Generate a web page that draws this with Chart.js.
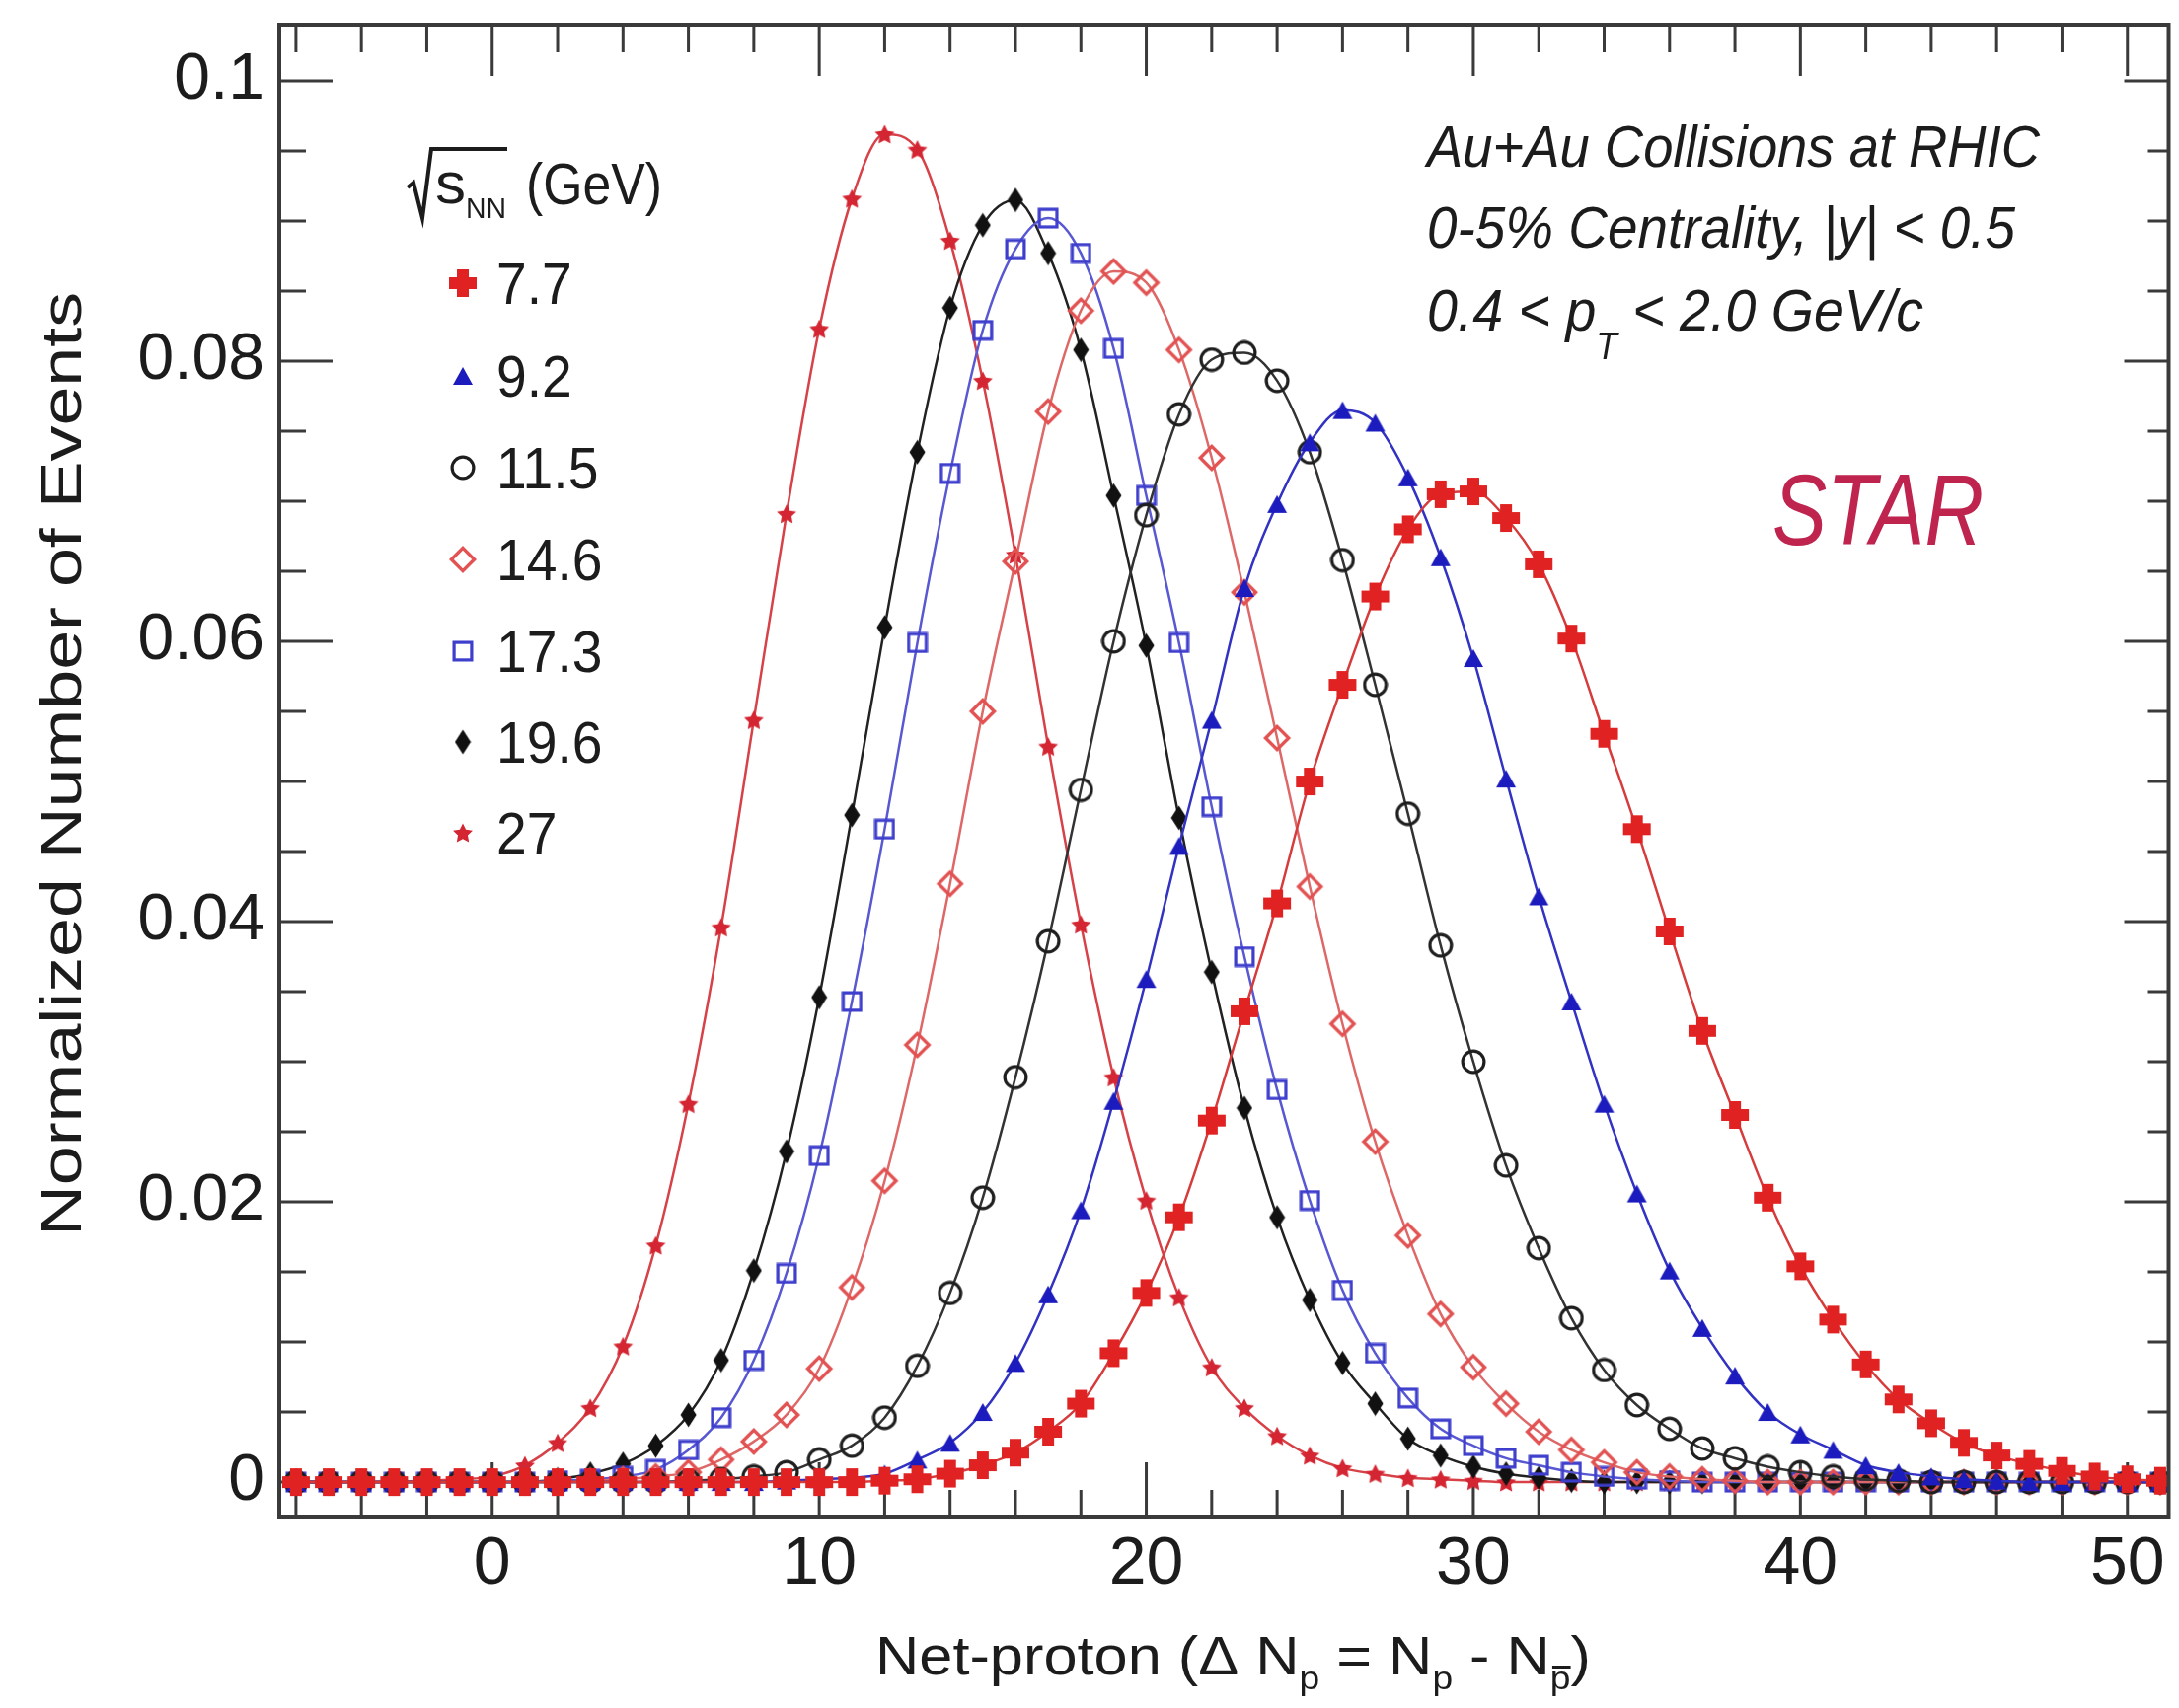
<!DOCTYPE html>
<html>
<head>
<meta charset="utf-8">
<title>Net-proton distributions</title>
<script src="https://cdn.jsdelivr.net/npm/chart.js@4.4.1/dist/chart.umd.min.js"></script>
<style>
    html, body { margin: 0; padding: 0; background: #fff; overflow: hidden; }
    #chart { display: block; }
</style>
</head>
<body>
<canvas id="chart" width="2208" height="1731"></canvas>
<script>
// Net-proton bins (x values)
const netProton = [-6, -5, -4, -3, -2, -1, 0, 1, 2, 3,
    4, 5, 6, 7, 8, 9, 10, 11, 12, 13,
    14, 15, 16, 17, 18, 19, 20, 21, 22, 23,
    24, 25, 26, 27, 28, 29, 30, 31, 32, 33,
    34, 35, 36, 37, 38, 39, 40, 41, 42, 43,
    44, 45, 46, 47, 48, 49, 50, 51];

// Collision energies (GeV), legend order
const energies = ['7.7', '9.2', '11.5', '14.6', '17.3', '19.6', '27'];

// Normalized number of events, one array per energy (rows: -6..3, 4..13, 14..23, 24..33, 34..43, 44..51)
const events7p7 = [0, 0, 0, 0, 0, 0, 0, 0, 0, 0,
    0, 0, 0, 0, 0, 0, 0, 0, 0.0001, 0.0002,
    0.0006, 0.0012, 0.0021, 0.0036, 0.0056, 0.0092, 0.0135, 0.0189, 0.0258, 0.0336,
    0.0413, 0.0500, 0.0569, 0.0632, 0.0680, 0.0705, 0.0707, 0.0688, 0.0655, 0.0602,
    0.0534, 0.0466, 0.0393, 0.0322, 0.0262, 0.0203, 0.0154, 0.0116, 0.0084, 0.0059,
    0.0042, 0.0028, 0.0019, 0.0013, 0.0008, 0.0004, 0.0002, 0.0001];

const events9p2 = [0, 0, 0, 0, 0, 0, 0, 0, 0, 0,
    0, 0, 0, 0, 0, 0.0001, 0.0002, 0.0003, 0.0006, 0.0016,
    0.0028, 0.0050, 0.0085, 0.0134, 0.0194, 0.0272, 0.0359, 0.0454, 0.0544, 0.0638,
    0.0698, 0.0742, 0.0765, 0.0756, 0.0717, 0.0660, 0.0588, 0.0502, 0.0418, 0.0343,
    0.0270, 0.0206, 0.0151, 0.0110, 0.0076, 0.0050, 0.0034, 0.0023, 0.0012, 0.0007,
    0.0004, 0.0002, 0.0001, 0, 0, 0, 0, 0];

const events11p5 = [0, 0, 0, 0, 0, 0, 0, 0, 0, 0,
    0, 0, 0.0001, 0.0002, 0.0004, 0.0007, 0.0016, 0.0026, 0.0046, 0.0083,
    0.0135, 0.0203, 0.0289, 0.0386, 0.0494, 0.0600, 0.0690, 0.0762, 0.0801, 0.0806,
    0.0786, 0.0735, 0.0658, 0.0569, 0.0477, 0.0383, 0.0300, 0.0226, 0.0167, 0.0117,
    0.0080, 0.0055, 0.0038, 0.0024, 0.0017, 0.0011, 0.0007, 0.0004, 0.0002, 0.0001,
    0, 0, 0, 0, 0, 0, 0, 0];

const events14p6 = [0, 0, 0, 0, 0, 0, 0, 0, 0, 0.0001,
    0.0002, 0.0004, 0.0007, 0.0016, 0.0029, 0.0048, 0.0081, 0.0139, 0.0215, 0.0312,
    0.0427, 0.0550, 0.0657, 0.0764, 0.0836, 0.0864, 0.0856, 0.0808, 0.0731, 0.0635,
    0.0531, 0.0425, 0.0327, 0.0243, 0.0176, 0.0120, 0.0082, 0.0056, 0.0036, 0.0023,
    0.0014, 0.0007, 0.0004, 0.0002, 0.0001, 0, 0, 0, 0, 0,
    0, 0, 0, 0, 0, 0, 0, 0];

const events17p3 = [0, 0, 0, 0, 0, 0, 0, 0, 0.0001, 0.0002,
    0.0004, 0.0009, 0.0023, 0.0046, 0.0087, 0.0149, 0.0233, 0.0343, 0.0466, 0.0599,
    0.0720, 0.0822, 0.0880, 0.0902, 0.0877, 0.0809, 0.0704, 0.0599, 0.0482, 0.0375,
    0.0280, 0.0201, 0.0137, 0.0092, 0.0060, 0.0038, 0.0026, 0.0017, 0.0012, 0.0007,
    0.0004, 0.0002, 0.0001, 0, 0, 0, 0, 0, 0, 0,
    0, 0, 0, 0, 0, 0, 0, 0];

const events19p6 = [0, 0, 0, 0, 0, 0, 0, 0, 0.0002, 0.0006,
    0.0013, 0.0026, 0.0048, 0.0087, 0.0151, 0.0236, 0.0346, 0.0476, 0.0610, 0.0735,
    0.0838, 0.0897, 0.0915, 0.0877, 0.0808, 0.0704, 0.0597, 0.0474, 0.0364, 0.0267,
    0.0189, 0.0130, 0.0085, 0.0056, 0.0031, 0.0019, 0.0011, 0.0006, 0.0003, 0.0001,
    0, 0, 0, 0, 0, 0, 0, 0, 0, 0,
    0, 0, 0, 0, 0, 0, 0, 0];

const events27 = [0, 0, 0, 0, 0.0001, 0.0002, 0.0004, 0.0012, 0.0028, 0.0053,
    0.0097, 0.0169, 0.0270, 0.0396, 0.0544, 0.0691, 0.0823, 0.0916, 0.0962, 0.0951,
    0.0886, 0.0786, 0.0662, 0.0525, 0.0398, 0.0289, 0.0201, 0.0132, 0.0082, 0.0053,
    0.0033, 0.0019, 0.0010, 0.0006, 0.0003, 0.0002, 0.0001, 0, 0, 0,
    0, 0, 0, 0, 0, 0, 0, 0, 0, 0,
    0, 0, 0, 0, 0, 0, 0, 0];

// Axis ticks
const xTickValues = [0, 10, 20, 30, 40, 50];
const xTickLabels = ['0', '10', '20', '30', '40', '50'];
const xMinorValues = [-6, -4, -2, 0, 2, 4, 6, 8, 10, 12, 14, 16, 18, 20, 22, 24, 26, 28,
    30, 32, 34, 36, 38, 40, 42, 44, 46, 48, 50];
const yTickValues = [0, 0.02, 0.04, 0.06, 0.08, 0.1];
const yTickLabels = ['0', '0.02', '0.04', '0.06', '0.08', '0.1'];
const yMinorValues = [0, 0.005, 0.01, 0.015, 0.02, 0.025, 0.03, 0.035, 0.04, 0.045, 0.05,
    0.055, 0.06, 0.065, 0.07, 0.075, 0.08, 0.085, 0.09, 0.095, 0.1];

const FONT = '"Liberation Sans", Arial, Helvetica, sans-serif';
const TEXT_COLOR = '#1c1c1c';
Chart.defaults.font.family = FONT;

// Marker images (ROOT-like styles)
function makeMarker(shape, color, w, h, lw) {
    const c = document.createElement('canvas');
    c.width = w; c.height = h;
    const g = c.getContext('2d');
    g.fillStyle = color;
    g.strokeStyle = color;
    g.lineWidth = lw || 3;
    const mx = w / 2, my = h / 2;
    g.beginPath();
    if (shape === 'cross') {
        const a = w * 0.2;
        g.rect(mx - a, 1, 2 * a, h - 2);
        g.rect(1, my - a, w - 2, 2 * a);
        g.fill();
    } else if (shape === 'triangle') {
        g.moveTo(mx, 1);
        g.lineTo(w - 1, h - 1);
        g.lineTo(1, h - 1);
        g.closePath();
        g.fill();
    } else if (shape === 'circle') {
        g.arc(mx, my, mx - g.lineWidth / 2 - 0.5, 0, Math.PI * 2);
        g.stroke();
    } else if (shape === 'diamondOpen') {
        const p = g.lineWidth;
        g.moveTo(mx, p); g.lineTo(w - p, my); g.lineTo(mx, h - p); g.lineTo(p, my);
        g.closePath();
        g.stroke();
    } else if (shape === 'square') {
        const p = g.lineWidth / 2 + 0.5;
        g.strokeRect(p, p, w - 2 * p, h - 2 * p);
    } else if (shape === 'diamond') {
        g.moveTo(mx, 0.5); g.lineTo(w - 0.5, my); g.lineTo(mx, h - 0.5); g.lineTo(0.5, my);
        g.closePath();
        g.fill();
    } else if (shape === 'star') {
        const ro = w / 2 - 0.5, ri = ro * 0.5;
        for (let i = 0; i < 10; i++) {
            const r = i % 2 ? ri : ro;
            const ang = -Math.PI / 2 + i * Math.PI / 5;
            const px = mx + r * Math.cos(ang), py = my + r * Math.sin(ang) + 1;
            if (i === 0) g.moveTo(px, py); else g.lineTo(px, py);
        }
        g.closePath();
        g.fill();
    }
    return c;
}

const seriesValues = [events7p7, events9p2, events11p5, events14p6, events17p3, events19p6, events27];
const seriesStyles = [
    { marker: makeMarker('cross', 'rgb(224,34,34)', 30, 30), line: 'rgb(214,60,60)' },
    { marker: makeMarker('triangle', 'rgb(28,28,190)', 22, 20), line: 'rgb(50,50,195)' },
    { marker: makeMarker('circle', '#1e1e1e', 26, 26, 3.2), line: '#333' },
    { marker: makeMarker('diamondOpen', 'rgb(226,82,82)', 30, 30, 3.4), line: 'rgb(222,104,104)' },
    { marker: makeMarker('square', 'rgb(62,62,205)', 22, 22, 3.2), line: 'rgb(88,88,210)' },
    { marker: makeMarker('diamond', '#111', 17, 26), line: '#222' },
    { marker: makeMarker('star', 'rgb(212,38,50)', 22, 22), line: 'rgb(214,66,72)' }
];

const datasets = energies.map((e, i) => ({
    label: e + ' GeV',
    data: netProton.map((x, j) => ({ x: x, y: seriesValues[i][j] })),
    borderColor: seriesStyles[i].line,
    borderWidth: 2.5,
    pointStyle: seriesStyles[i].marker,
    pointRadius: 8,
    cubicInterpolationMode: 'monotone',
    fill: false
}));

// Draw a row of text runs, squeezed/stretched to a target width
function drawRuns(ctx, runs, x, y, targetW) {
    let total = 0;
    runs.forEach(r => { ctx.font = r.font; r.w = ctx.measureText(r.text).width; total += r.w; });
    const k = targetW ? targetW / total : 1;
    ctx.save();
    ctx.translate(x, y);
    ctx.scale(k, 1);
    let cx = 0;
    runs.forEach(r => {
        ctx.font = r.font;
        ctx.fillText(r.text, cx, r.dy || 0);
        if (r.overline) ctx.fillRect(cx + r.w * 0.1, (r.dy || 0) - r.overline, r.w * 0.9, 3);
        cx += r.w;
    });
    ctx.restore();
}

const framePlugin = {
    id: 'frame',
    beforeDatasetsDraw(chart) {
        const { ctx, chartArea: a, scales: { x, y } } = chart;
        ctx.save();
        ctx.strokeStyle = '#3a3a3a';
        ctx.lineWidth = 3;
        ctx.beginPath();
        xMinorValues.forEach(v => {
            const px = x.getPixelForValue(v);
            const major = xTickValues.includes(v);
            ctx.moveTo(px, a.bottom); ctx.lineTo(px, a.bottom - (major ? 55 : 27));
            ctx.moveTo(px, a.top); ctx.lineTo(px, a.top + (major ? 52 : 28));
        });
        yMinorValues.forEach((v, i) => {
            const py = y.getPixelForValue(v);
            const major = i % 4 === 0;
            ctx.moveTo(a.left, py); ctx.lineTo(a.left + (major ? 54 : 27), py);
            ctx.moveTo(a.right, py); ctx.lineTo(a.right - (major ? 45 : 21), py);
        });
        ctx.stroke();
        ctx.restore();
    },
    afterDatasetsDraw(chart) {
        const { ctx, chartArea: a } = chart;
        ctx.save();
        ctx.strokeStyle = '#3a3a3a';
        ctx.lineWidth = 4;
        ctx.strokeRect(a.left, a.top, a.right - a.left, a.bottom - a.top);
        ctx.restore();
    }
};

const textPlugin = {
    id: 'texts',
    afterDraw(chart) {
        const ctx = chart.ctx;
        ctx.save();
        ctx.fillStyle = TEXT_COLOR;
        ctx.strokeStyle = TEXT_COLOR;
        ctx.textBaseline = 'alphabetic';
        ctx.textAlign = 'left';

        // Y axis title
        ctx.save();
        ctx.translate(82, 775);
        ctx.rotate(-Math.PI / 2);
        drawRuns(ctx, [{ text: 'Normalized Number of Events', font: '58px ' + FONT }], -478, 0, 957);
        ctx.restore();

        // X axis title
        const big = '56px ' + FONT, sub = '34px ' + FONT;
        drawRuns(ctx, [
            { text: 'Net-proton (\u0394 N', font: big },
            { text: 'p', font: sub, dy: 15 },
            { text: ' = N', font: big },
            { text: 'p', font: sub, dy: 15 },
            { text: ' - N', font: big },
            { text: 'p', font: sub, dy: 15, overline: 24 },
            { text: ')', font: big }
        ], 887, 1697, 725);

        // Legend header: sqrt(s_NN) (GeV)
        ctx.lineWidth = 4;
        ctx.lineJoin = 'miter';
        ctx.beginPath();
        ctx.moveTo(413, 190); ctx.lineTo(419, 185); ctx.lineTo(428, 221);
        ctx.lineTo(437, 151); ctx.lineTo(514, 151);
        ctx.stroke();
        drawRuns(ctx, [{ text: 's', font: '60px ' + FONT }], 441, 206, 31);
        drawRuns(ctx, [{ text: 'NN', font: '30px ' + FONT }], 472, 221, 41);
        drawRuns(ctx, [{ text: '(GeV)', font: '60px ' + FONT }], 533, 207, 138);

        // Legend entries
        const rowY = [287, 381, 474, 567, 660, 752, 844];
        energies.forEach((e, i) => {
            const m = seriesStyles[i].marker;
            ctx.drawImage(m, 469 - m.width / 2, rowY[i] - m.height / 2);
            ctx.font = '60px ' + FONT;
            const w = ctx.measureText(e).width;
            drawRuns(ctx, [{ text: e, font: '60px ' + FONT }], 503, rowY[i] + 21, w * 0.92);
        });

        // Info text
        const it = 'italic 60px ' + FONT;
        drawRuns(ctx, [{ text: 'Au+Au Collisions at RHIC', font: it }], 1446, 169, 621);
        drawRuns(ctx, [{ text: '0-5% Centrality, |y| < 0.5', font: it }], 1446, 251, 596);
        drawRuns(ctx, [
            { text: '0.4 < p', font: it },
            { text: 'T', font: 'italic 38px ' + FONT, dy: 29 },
            { text: ' < 2.0 GeV/c', font: it }
        ], 1446, 335, 503);

        // STAR label
        ctx.fillStyle = 'rgb(190,36,78)';
        drawRuns(ctx, [{ text: 'STAR', font: 'italic 102px ' + FONT }], 1796, 552, 214);
        ctx.restore();
    }
};

const chart = new Chart(document.getElementById('chart'), {
    type: 'line',
    data: { datasets: datasets },
    options: {
        responsive: false,
        animation: false,
        devicePixelRatio: 1,
        layout: { padding: { top: 25, left: 0, right: 0, bottom: 0 } },
        plugins: {
            legend: { display: false },
            tooltip: { enabled: false }
        },
        scales: {
            x: {
                type: 'linear',
                min: -6.51,
                max: 51.26,
                grid: { display: false, drawTicks: false },
                border: { display: false },
                ticks: {
                    color: TEXT_COLOR,
                    font: { size: 68 },
                    padding: 8,
                    maxRotation: 0,
                    autoSkip: false,
                    callback: (v, i) => xTickLabels[i]
                },
                afterBuildTicks: s => { s.ticks = xTickValues.map(v => ({ value: v })); },
                afterFit: s => { s.height = 194; s.paddingLeft = 0; s.paddingRight = 0; }
            },
            y: {
                min: -0.00246,
                max: 0.10401,
                grid: { display: false, drawTicks: false },
                border: { display: false },
                ticks: {
                    color: TEXT_COLOR,
                    font: { size: 66 },
                    padding: 15,
                    autoSkip: false,
                    callback: (v, i) => yTickLabels[i]
                },
                afterBuildTicks: s => { s.ticks = yTickValues.map(v => ({ value: v })); },
                afterFit: s => { s.width = 283; s.paddingTop = 0; s.paddingBottom = 0; }
            }
        }
    },
    plugins: [framePlugin, textPlugin]
});
</script>
</body>
</html>
